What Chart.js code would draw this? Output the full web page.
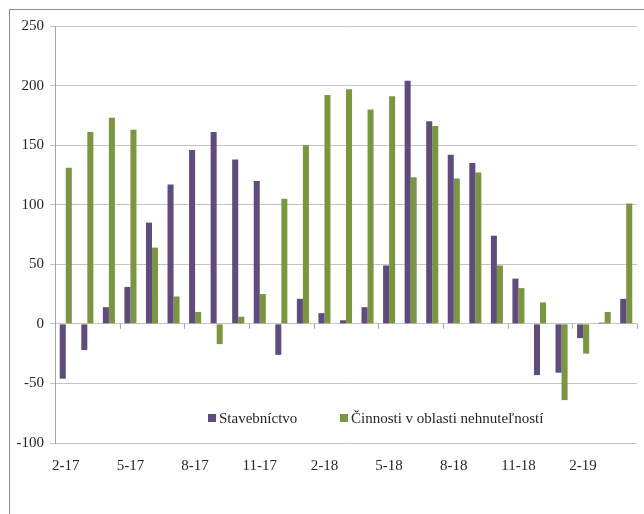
<!DOCTYPE html>
<html>
<head>
<meta charset="utf-8">
<script src="https://cdn.jsdelivr.net/npm/chart.js@4/dist/chart.umd.min.js"></script>
<style>
  html, body { margin: 0; padding: 0; background: #ffffff; }
  #wrap { position: relative; width: 644px; height: 514px; }
  #frame { position: absolute; left: 9px; top: 9px; width: 640px; height: 510px;
           border-top: 1px solid #8c8c8c; border-left: 1px solid #8c8c8c; }
  #c { position: absolute; left: 0; top: 0; }
</style>
</head>
<body>
<div id="wrap">
  <div id="frame"></div>
  <canvas id="c" width="644" height="514"></canvas>
</div>
<script>
// Months, Feb 2017 – Apr 2019
const months = ["2-17","3-17","4-17","5-17","6-17","7-17","8-17","9-17","10-17","11-17","12-17","1-18",
                "2-18","3-18","4-18","5-18","6-18","7-18","8-18","9-18","10-18","11-18","12-18","1-19",
                "2-19","3-19","4-19"];

const stavebnictvo = [-46, -22, 14, 31, 85, 117, 146, 161, 138, 120, -26, 21,
                      9, 3, 14, 49, 204, 170, 142, 135, 74, 38, -43, -41,
                      -12, 1, 21];

const nehnutelnosti = [131, 161, 173, 163, 64, 23, 10, -17, 6, 25, 105, 150,
                       192, 197, 180, 191, 123, 166, 122, 127, 49, 30, 18, -64,
                       -25, 10, 101];

const yTicks = { min: -100, max: 250, step: 50 };

const FONT = '"Liberation Serif", "Times New Roman", serif';
const TEXT = '#262626';
const GRID = '#c4c4c4';

// Small tick marks along the zero line, at every third category boundary
const zeroTicks = {
  id: 'zeroTicks',
  beforeDatasetsDraw(chart) {
    const x = chart.scales.x, y = chart.scales.y;
    const n = chart.data.labels.length;
    const w = (x.right - x.left) / n;
    const y0 = y.getPixelForValue(0);
    const ctx = chart.ctx;
    ctx.save();
    ctx.strokeStyle = '#a6a6a6';
    ctx.lineWidth = 1;
    for (let i = 0; i <= n; i += 3) {
      const px = Math.round(x.left + i * w) + 0.5;
      ctx.beginPath();
      ctx.moveTo(px, y0);
      ctx.lineTo(px, y0 + 5);
      ctx.stroke();
    }
    ctx.restore();
  }
};

// Legend drawn inside the plot, near the bottom
const innerLegend = {
  id: 'innerLegend',
  afterDraw(chart) {
    const ctx = chart.ctx;
    const area = chart.chartArea;
    const yc = chart.scales.y.getPixelForValue(-100) - 25;
    const xs = [area.left + 153, area.left + 285];
    ctx.save();
    ctx.font = '15px ' + FONT;
    ctx.textBaseline = 'middle';
    chart.data.datasets.forEach((ds, i) => {
      ctx.fillStyle = ds.backgroundColor;
      ctx.fillRect(xs[i], yc - 4, 8, 8);
      ctx.fillStyle = TEXT;
      ctx.fillText(ds.label, xs[i] + 11, yc + 1);
    });
    ctx.restore();
  }
};

new Chart(document.getElementById('c'), {
  type: 'bar',
  data: {
    labels: months,
    datasets: [
      { label: 'Stavebníctvo', data: stavebnictvo, backgroundColor: '#5f4b7c' },
      { label: 'Činnosti v oblasti nehnuteľností', data: nehnutelnosti, backgroundColor: '#7b9640' }
    ]
  },
  options: {
    responsive: false,
    animation: false,
    events: [],
    layout: { padding: { top: 26, right: 7, left: 0, bottom: 0 } },
    datasets: { bar: { categoryPercentage: 0.56, barPercentage: 1.0 } },
    plugins: { legend: { display: false }, tooltip: { enabled: false } },
    scales: {
      x: {
        grid: { display: false, drawTicks: false },
        border: { display: false },
        ticks: {
          autoSkip: false, maxRotation: 0, minRotation: 0, padding: 14,
          color: TEXT, font: { family: FONT, size: 15 },
          callback: (v, i) => (i % 3 === 0 ? months[i] : '')
        },
        afterFit: s => { s.height = 71; }
      },
      y: {
        min: yTicks.min, max: yTicks.max,
        grid: { color: GRID, lineWidth: 1, tickLength: 5 },
        border: { display: true, color: '#a6a6a6' },
        ticks: { stepSize: yTicks.step, padding: 6, color: TEXT, font: { family: FONT, size: 15 } },
        afterFit: s => { s.width = 55; }
      }
    }
  },
  plugins: [zeroTicks, innerLegend]
});
</script>
</body>
</html>
